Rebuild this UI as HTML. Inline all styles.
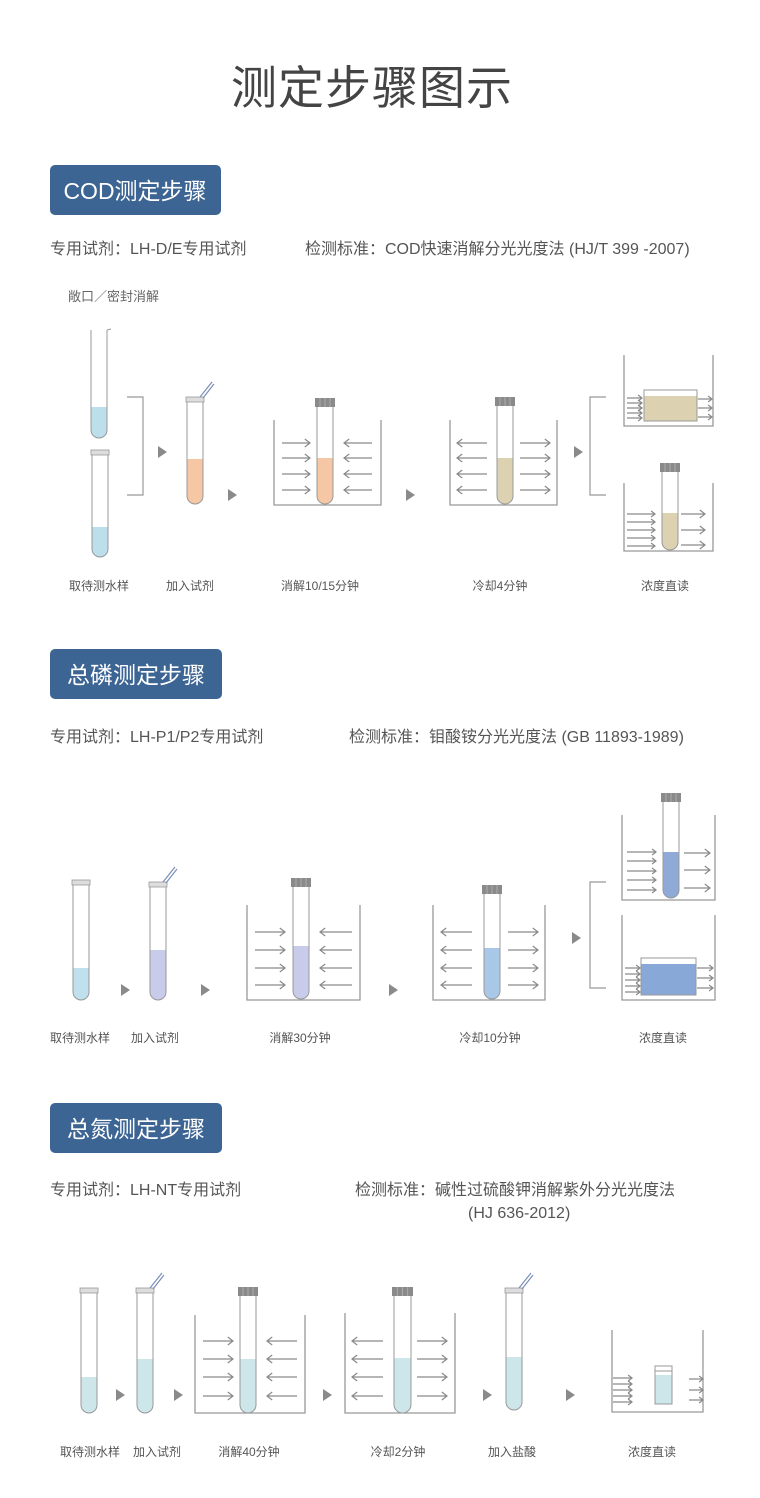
<!DOCTYPE html>
<html><head><meta charset="utf-8"><style>
html,body{margin:0;padding:0;background:#fff;}
svg{display:block}
text{font-family:"Liberation Sans","Noto Sans CJK SC",sans-serif;}
</style></head><body>
<svg id="s" width="760" height="1498" viewBox="0 0 760 1498" xmlns="http://www.w3.org/2000/svg">
<text x="372" y="104" text-anchor="middle" font-size="46" fill="#444" font-weight="normal" letter-spacing="1">测定步骤图示</text>

<rect x="50" y="165" width="171" height="50" rx="5" fill="#3d6594"/>
<text x="135" y="199" text-anchor="middle" font-size="23" fill="#fff">COD测定步骤</text>
<text x="50" y="254" font-size="16" fill="#555">专用试剂：LH-D/E专用试剂</text>
<text x="305" y="254" font-size="16" fill="#555">检测标准：COD快速消解分光光度法 (HJ/T 399 -2007)</text>
<text x="68" y="301" font-size="13" fill="#666">敞口／密封消解</text>
<g font-size="12" fill="#555" text-anchor="middle">
<text x="99" y="590">取待测水样</text><text x="190" y="590">加入试剂</text><text x="320" y="590">消解10/15分钟</text><text x="500" y="590">冷却4分钟</text><text x="665" y="590">浓度直读</text>
</g>

<rect x="50" y="649" width="172" height="50" rx="5" fill="#3d6594"/>
<text x="136" y="683" text-anchor="middle" font-size="23" fill="#fff">总磷测定步骤</text>
<text x="50" y="742" font-size="16" fill="#555">专用试剂：LH-P1/P2专用试剂</text>
<text x="349" y="742" font-size="16" fill="#555">检测标准：钼酸铵分光光度法 (GB 11893-1989)</text>
<g font-size="12" fill="#555" text-anchor="middle">
<text x="80" y="1042">取待测水样</text><text x="155" y="1042">加入试剂</text><text x="300" y="1042">消解30分钟</text><text x="490" y="1042">冷却10分钟</text><text x="663" y="1042">浓度直读</text>
</g>

<rect x="50" y="1103" width="172" height="50" rx="5" fill="#3d6594"/>
<text x="136" y="1137" text-anchor="middle" font-size="23" fill="#fff">总氮测定步骤</text>
<text x="50" y="1195" font-size="16" fill="#555">专用试剂：LH-NT专用试剂</text>
<text x="355" y="1195" font-size="16" fill="#555">检测标准：碱性过硫酸钾消解紫外分光光度法</text>
<text x="468" y="1218" font-size="16" fill="#555">(HJ  636-2012)</text>
<g font-size="12" fill="#555" text-anchor="middle">
<text x="90" y="1456">取待测水样</text><text x="157" y="1456">加入试剂</text><text x="249" y="1456">消解40分钟</text><text x="398" y="1456">冷却2分钟</text><text x="512" y="1456">加入盐酸</text><text x="652" y="1456">浓度直读</text>
</g>
<g id="g"></g>
</svg>
<script>
var out='';
var L='#999',A='#8a8a8a';
function tube(x,top,bot,w,lt,col,cap,pip){
 var r=w/2;
 if(lt!=null) out+='<path d="M'+x+' '+lt+' L'+x+' '+(bot-r)+' A'+r+' '+r+' 0 0 0 '+(x+w)+' '+(bot-r)+' L'+(x+w)+' '+lt+' Z" fill="'+col+'"/>';
 out+='<path d="M'+x+' '+top+' L'+x+' '+(bot-r)+' A'+r+' '+r+' 0 0 0 '+(x+w)+' '+(bot-r)+' L'+(x+w)+' '+top+'" fill="none" stroke="'+L+'" stroke-width="1"/>';
 if(cap=='light'){out+='<rect x="'+(x-1)+'" y="'+(top-5)+'" width="'+(w+2)+'" height="5" fill="#ddd" stroke="#999" stroke-width="0.8"/>';}
 else if(cap=='dark'){out+='<rect x="'+(x-2)+'" y="'+(top-9)+'" width="'+(w+4)+'" height="9" fill="#8a8a8a"/>';
  for(var i=1;i<4;i++) out+='<line x1="'+(x-2+i*(w+4)/4)+'" y1="'+(top-9)+'" x2="'+(x-2+i*(w+4)/4)+'" y2="'+top+'" stroke="#bbb" stroke-width="0.7"/>';}
 else if(cap=='open'){out+='<line x1="'+(x+w)+'" y1="'+top+'" x2="'+(x+w+4)+'" y2="'+(top-1)+'" stroke="'+L+'"/>';}
 if(pip){out+='<path d="M'+(x+w-3)+' '+(top-5)+' L'+(x+w+9)+' '+(top-20)+' M'+(x+w)+' '+(top-4)+' L'+(x+w+11)+' '+(top-18)+'" stroke="#7a8fb8" stroke-width="1.2" fill="none"/>';}
}
function bath(x1,top,x2,bot){out+='<path d="M'+x1+' '+top+' L'+x1+' '+bot+' L'+x2+' '+bot+' L'+x2+' '+top+'" fill="none" stroke="'+L+'" stroke-width="1.3"/>';}
function ar(x1,x2,y,h){h=h||4;var d=x2>x1?-1:1;out+='<path d="M'+x1+' '+y+' L'+x2+' '+y+' M'+(x2+d*h*1.3)+' '+(y-h)+' L'+x2+' '+y+' L'+(x2+d*h*1.3)+' '+(y+h)+'" fill="none" stroke="'+A+'" stroke-width="1.2"/>';}
function tri(x,y){out+='<path d="M'+(x-4)+' '+(y-6)+' L'+(x+5)+' '+y+' L'+(x-4)+' '+(y+6)+' Z" fill="#8a8a8a"/>';}
function brk(x,x2,y1,y2){out+='<path d="M'+x2+' '+y1+' L'+x+' '+y1+' L'+x+' '+y2+' L'+x2+' '+y2+'" fill="none" stroke="'+L+'" stroke-width="1.2"/>';}
function cuv(x1,y1,x2,y2,lt,col){out+='<rect x="'+x1+'" y="'+lt+'" width="'+(x2-x1)+'" height="'+(y2-lt)+'" fill="'+col+'"/><rect x="'+x1+'" y="'+y1+'" width="'+(x2-x1)+'" height="'+(y2-y1)+'" fill="none" stroke="'+L+'"/>';}
function rows(x1,x2,ys,h){ys.forEach(function(y){ar(x1,x2,y,h);});}
var blue='#bcdfeb',org='#f6c7a5',beig='#dcd2b2';
tube(91,330,438,16,407,blue,'open');
tube(92,455,557,16,527,blue,'light');
brk(143,127,397,495);
tri(162,452);
tube(187,402,504,16,459,org,'light',true);
tri(232,495);
bath(274,420,381,505);tube(317,407,504,16,458,org,'dark');
rows(282,310,[443,458,474,490]);rows(372,344,[443,458,474,490]);
tri(410,495);
bath(450,420,557,505);tube(497,406,504,16,458,beig,'dark');
rows(487,457,[443,458,474,490]);rows(520,550,[443,458,474,490]);
tri(578,452);
brk(590,606,397,495);
bath(624,355,713,426);cuv(644,390,697,421,396,beig);
rows(627,642,[398,403,408,413,418],3);rows(698,712,[399,408,417],3);
bath(624,483,713,551);tube(662,472,550,16,513,beig,'dark');
rows(627,655,[514,522,530,538,546],3);rows(681,705,[514,530,545]);
var b2='#bfe0ec',lav='#c8cbea',b3='#a9c8e8',b4='#8faad6';
tube(73,885,1000,16,968,b2,'light');tri(125,990);
tube(150,887,1000,16,950,lav,'light',true);tri(205,990);
bath(247,905,360,1000);tube(293,887,999,16,946,lav,'dark');
rows(255,285,[932,950,968,985]);rows(352,320,[932,950,968,985]);
tri(393,990);
bath(433,905,545,1000);tube(484,894,999,16,948,b3,'dark');
rows(472,441,[932,950,968,985]);rows(508,538,[932,950,968,985]);
tri(576,938);brk(590,606,882,988);
bath(622,815,715,900);tube(663,802,898,16,852,b4,'dark');
rows(627,656,[852,861,871,880,890],3);rows(684,710,[853,870,888]);
bath(622,915,715,1000);cuv(641,958,696,995,964,'#88a8d8');
rows(625,640,[968,974,980,986,992],3);rows(697,713,[968,978,988],3);
var g='#cde6ea';
tube(81,1293,1413,16,1377,g,'light');tri(120,1395);
tube(137,1293,1413,16,1359,g,'light',true);tri(178,1395);
bath(195,1315,305,1413);tube(240,1296,1413,16,1359,g,'dark');
rows(203,233,[1341,1359,1377,1396]);rows(297,267,[1341,1359,1377,1396]);
tri(327,1395);
bath(345,1313,455,1413);tube(394,1296,1413,17,1358,g,'dark');
rows(383,352,[1341,1359,1377,1396]);rows(417,447,[1341,1359,1377,1396]);
tri(487,1395);
tube(506,1293,1410,16,1357,g,'light',true);tri(570,1395);
bath(612,1330,703,1412);cuv(655,1366,672,1404,1375,g);
out+='<line x1="655" y1="1371" x2="672" y2="1371" stroke="#999"/>';
rows(613,632,[1378,1384,1390,1396,1402],3);rows(689,703,[1379,1390,1400],3);
document.getElementById('g').innerHTML=out;
</script>
</body></html>
